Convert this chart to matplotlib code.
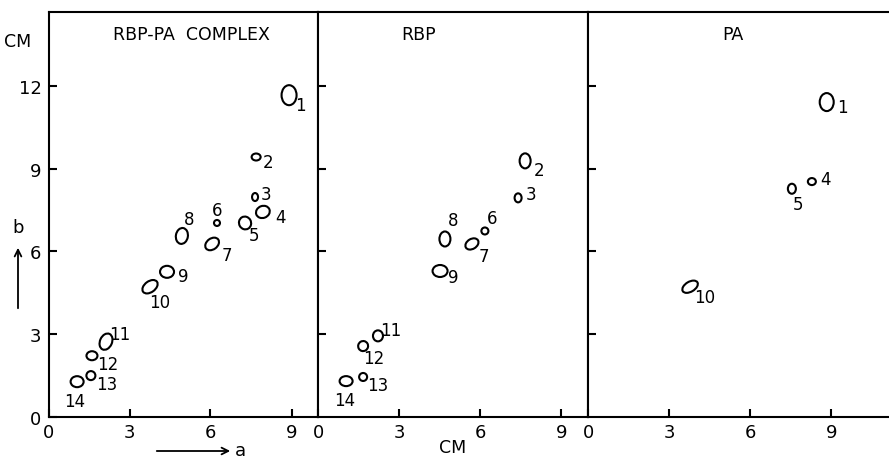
import matplotlib
matplotlib.use("Agg")
import matplotlib.pyplot as plt
from matplotlib.patches import Ellipse

# spot positions (cm)
complex_ids = [1, 2, 3, 4, 5, 6, 7, 8, 9, 10, 11, 12, 13, 14]
complex_a = [8.91, 7.69, 7.65, 7.94, 7.28, 6.24, 6.06, 4.94, 4.39, 3.76, 2.13, 1.61, 1.57, 1.06]
complex_b = [11.66, 9.42, 7.97, 7.43, 7.03, 7.03, 6.27, 6.56, 5.26, 4.72, 2.73, 2.22, 1.50, 1.28]

rbp_ids = [2, 3, 6, 7, 8, 9, 11, 12, 13, 14]
rbp_a = [7.66, 7.40, 6.17, 5.69, 4.69, 4.51, 2.21, 1.66, 1.66, 1.03]
rbp_b = [9.28, 7.94, 6.74, 6.27, 6.45, 5.29, 2.94, 2.57, 1.45, 1.30]

pa_ids = [1, 4, 5, 10]
pa_a = [8.83, 8.28, 7.54, 3.77]
pa_b = [11.41, 8.53, 8.27, 4.72]

titles = ["RBP-PA  COMPLEX", "RBP", "PA"]
xticks = [0, 3, 6, 9]
yticks = [0, 3, 6, 9, 12]

# spot outline shapes (width px, height px, angle) and label offsets (px)
complex_shape = [(15, 20, 0), (9, 7, 0), (6, 8, 0), (14, 12, 20), (12, 13, 30), (6, 6, 0),
                 (15, 11, 35), (12, 16, -10), (14, 12, 0), (17, 11, 35), (12, 17, -25),
                 (11, 9, 0), (9, 9, 0), (13, 11, 0)]
complex_off = [(11, -10), (12, -5), (11, 3), (18, -5), (9, -12), (0, 13), (15, -11),
               (7, 17), (16, -4), (10, -15), (14, 8), (16, -8), (16, -8), (-2, -19)]
rbp_shape = [(11, 15, 0), (7, 9, 0), (7, 7, 0), (14, 10, 30), (11, 15, 0), (15, 12, 0),
             (10, 11, 0), (10, 10, 30), (8, 8, 0), (13, 10, 0)]
rbp_off = [(14, -9), (13, 4), (7, 13), (12, -12), (8, 19), (13, -6), (13, 6), (11, -12),
           (15, -8), (-1, -19)]
pa_shape = [(14, 18, 0), (8, 7, 0), (8, 10, 0), (17, 10, 30)]
pa_off = [(16, -5), (14, 3), (6, -15), (15, -10)]

W, H = 889, 464
PX = 27.0  # pixels per cm on both axes
fig = plt.figure(figsize=(W / 100, H / 100), dpi=100)
plt.rcParams['font.family'] = ['DejaVu Sans']

bottom = 1 - 418 / H
height = (418 - 13) / H
lefts = [48.5, 318.3, 588.3]
rights = [318.3, 588.3, W]
panels = [(complex_ids, complex_a, complex_b, complex_shape, complex_off),
          (rbp_ids, rbp_a, rbp_b, rbp_shape, rbp_off),
          (pa_ids, pa_a, pa_b, pa_shape, pa_off)]

for k, (ids, xa, yb, shapes, offs) in enumerate(panels):
    l, r = lefts[k], rights[k]
    ax = fig.add_axes([l / W, bottom, (r - l) / W, height])
    ax.set_xlim(0, (r - l) / PX)
    ax.set_ylim(0, (418 - 13) / 27.6)
    for sp in ax.spines.values():
        sp.set_linewidth(1.5)
    if k == 2:
        ax.spines['right'].set_visible(False)
    ax.set_xticks(xticks)
    ax.set_xticklabels([str(t) for t in xticks], fontsize=13)
    ax.set_yticks(yticks if k == 0 else yticks[1:])
    if k == 0:
        ax.set_yticklabels([str(t) for t in yticks], fontsize=13)
    else:
        ax.set_yticklabels([])
    ax.tick_params(direction='in', length=6, width=1.5, pad=4)
    ax.tick_params(axis='y', pad=5)

    for i, n in enumerate(ids):
        w, h, ang = shapes[i]
        ax.add_patch(Ellipse((xa[i], yb[i]), w / PX, h / 27.6, angle=ang,
                             fill=False, lw=1.5, ec='black'))
        dx, dy = offs[i]
        ax.annotate(str(n), (xa[i], yb[i]), xytext=(dx / 1.389, dy / 1.389),
                    textcoords='offset points', ha='center', va='center', fontsize=12)

    tx = {0: 0.53, 1: 0.37, 2: 0.48}[k]
    ax.text(tx, 0.945, titles[k], transform=ax.transAxes, ha='center', va='center',
            fontsize=12.5)

# axis annotations
fig.text(18 / W, 1 - 42 / H, "CM", ha='center', va='center', fontsize=12.5)
fig.text(453 / W, 1 - 448 / H, "CM", ha='center', va='center', fontsize=12.5)
fig.text(18 / W, 1 - 228 / H, "b", ha='center', va='center', fontsize=13)
fig.text(240 / W, 1 - 451 / H, "a", ha='center', va='center', fontsize=13)
fig.patches.append(matplotlib.patches.FancyArrowPatch(
    (18 / W, 1 - 312 / H), (18 / W, 1 - 246 / H), transform=fig.transFigure,
    arrowstyle='->', mutation_scale=12, lw=1.3, color='black'))
fig.patches.append(matplotlib.patches.FancyArrowPatch(
    (154 / W, 1 - 452 / H), (233 / W, 1 - 452 / H), transform=fig.transFigure,
    arrowstyle='->', mutation_scale=12, lw=1.3, color='black'))

fig.savefig("out.png", dpi=100)
